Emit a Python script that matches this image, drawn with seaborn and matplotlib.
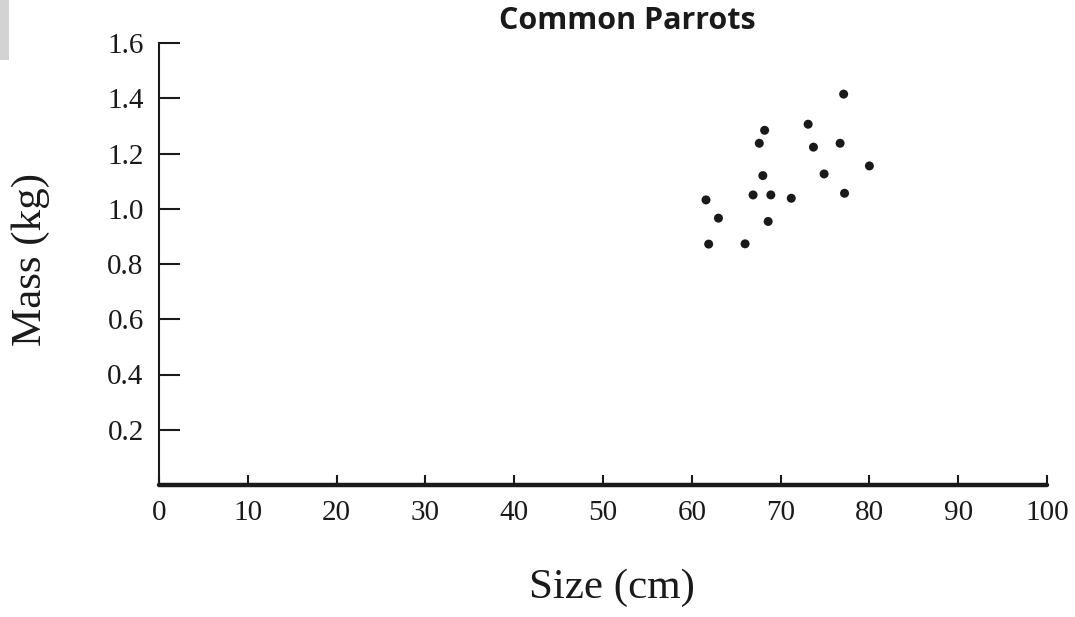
import matplotlib
matplotlib.use("Agg")
import matplotlib.pyplot as plt
import seaborn as sns
import pandas as pd
from matplotlib.patches import Rectangle

size_cm = [77.1, 73.1, 68.2, 67.6, 73.7, 76.7, 80.0, 68.0, 74.9, 77.2,
           66.9, 68.9, 71.2, 61.6, 63.0, 68.6, 61.9, 66.0]
mass_kg = [1.415, 1.306, 1.284, 1.237, 1.223, 1.237, 1.155, 1.120, 1.126, 1.056,
           1.050, 1.050, 1.038, 1.032, 0.966, 0.954, 0.872, 0.873]
x_ticks = [0, 10, 20, 30, 40, 50, 60, 70, 80, 90, 100]
y_ticks = [0.2, 0.4, 0.6, 0.8, 1.0, 1.2, 1.4, 1.6]
y_tick_labels = ["0.2", "0.4", "0.6", "0.8", "1.0", "1.2", "1.4", "1.6"]

df = pd.DataFrame({"Size (cm)": size_cm, "Mass (kg)": mass_kg})

sns.set_style("white")
plt.rcParams['font.family'] = ['Liberation Serif', 'DejaVu Serif']

fig = plt.figure(figsize=(10.75, 6.17), dpi=100)
ax = fig.add_axes([159/1075, 1 - 485/617, 888/1075, 442/617])

sns.scatterplot(data=df, x="Size (cm)", y="Mass (kg)", ax=ax, color="#1a1a1a",
                s=42, edgecolor="none", clip_on=False)

ax.set_xlim(0, 100)
ax.set_ylim(0, 1.6)
ax.set_xticks(x_ticks)
ax.set_xticklabels([str(t) for t in x_ticks])
ax.set_yticks(y_ticks)
ax.set_yticklabels(y_tick_labels)

for s in ["top", "right"]:
    ax.spines[s].set_visible(False)
ax.spines["left"].set_linewidth(1.5)
ax.spines["left"].set_color("#1a1a1a")
ax.spines["bottom"].set_linewidth(3.2)
ax.spines["bottom"].set_color("#1a1a1a")
ax.spines["bottom"].set_capstyle("round")

ax.tick_params(axis="y", direction="in", length=15, width=1.5, colors="#1a1a1a",
               labelsize=21, pad=11, left=True)
ax.tick_params(axis="x", direction="in", length=7.5, width=1.5, colors="#1a1a1a",
               labelsize=21, pad=11, bottom=True)
for lab in ax.get_xticklabels() + ax.get_yticklabels():
    lab.set_color("#1a1a1a")

ax.set_xlabel("")
ax.set_ylabel("")
fig.text(612/1075, 1 - 588/617, "Size (cm)", ha="center", va="center",
         fontsize=31, color="#1a1a1a")
fig.text(31/1075, 1 - 260/617, "Mass (kg)", ha="center", va="center",
         fontsize=31, rotation=90, color="#1a1a1a")
fig.text(627/1075, 1 - 21/617, "Common Parrots", ha="center", va="center",
         fontsize=22, fontweight="bold", family=["Open Sans", "DejaVu Sans"],
         color="#1a1a1a")

fig.patches.append(Rectangle((0, 1 - 60/617), 9/1075, 60/617, transform=fig.transFigure,
                             facecolor="#d3d3d3", edgecolor="none", figure=fig))

fig.savefig("out.png", dpi=100)
